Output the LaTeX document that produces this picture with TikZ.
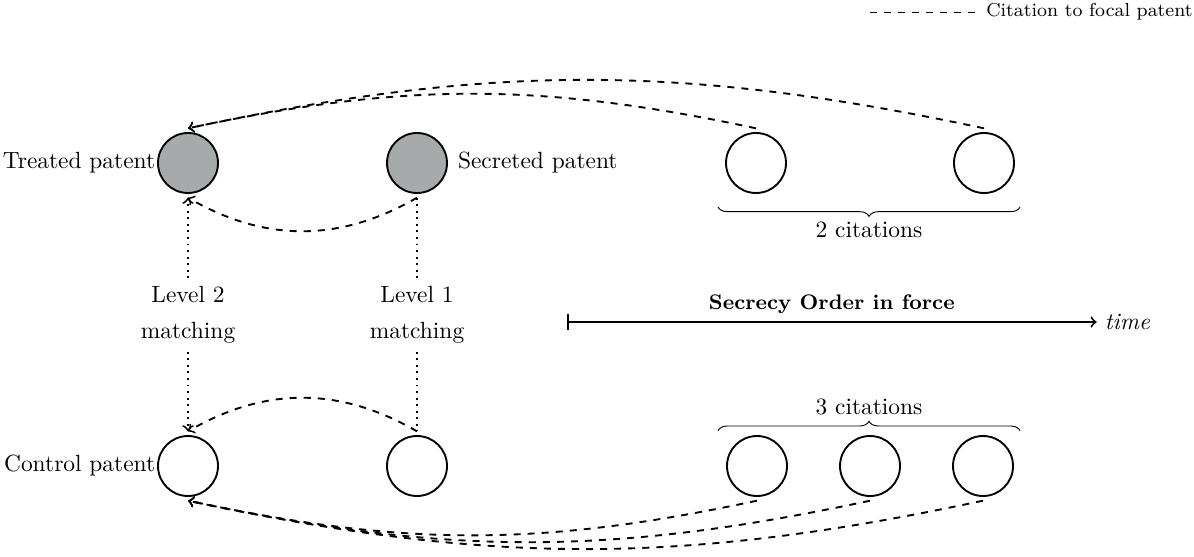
\documentclass[tikz,border=0pt]{standalone}
\usepackage{tikz}
\usetikzlibrary{calc, positioning, decorations.pathreplacing}
\definecolor{secretgray}{RGB}{166,170,170}

\begin{document}
\begin{tikzpicture}

    \useasboundingbox (0,0) rectangle (17.91,8.34); % keep the page at the reference size

    % circles for the patents, dashed for citations, dotted for the matching
    \begin{scope}[patent/.style={circle, draw, thick, minimum size=9mm, inner sep=0pt, outer sep=2pt},
                  secret/.style={patent, fill=secretgray},
                  cite/.style={->, thick, dashed},
                  match/.style={thick, dotted},
                  every label/.style={inner sep=1pt}]

    \node [secret, label={[label distance=-2pt]left:Treated patent}]   (treated)  at (2.82, 5.895)  {};
    \node [secret, label={[label distance=1.5pt]right:Secreted patent}] (secreted) at (6.255, 5.895) {};
    \node [patent] (c1) at (11.34, 5.895) {};
    \node [patent] (c2) at (14.76, 5.895) {};

    \node [patent, label={[label distance=-2pt]left:Control patent}] (control) at (2.82, 1.35)  {};
    \node [patent] (control2) at (6.255, 1.35) {};
    \node [patent] (d1) at (11.355, 1.35) {};
    \node [patent] (d2) at (13.05, 1.35)  {};
    \node [patent] (d3) at (14.745, 1.35) {};

    \node [align=center] (lev2) at (2.82, 3.615)  {Level 2\\[3.3pt]matching};
    \node [align=center] (lev1) at (6.255, 3.615) {Level 1\\[3.3pt]matching};

    % matching
    \draw [match, ->] (lev2.north) -- (treated.south);
    \draw [match, ->] (lev2.south) -- (control.north);
    \draw [match] (secreted.south) -- (lev1.north);
    \draw [match] (lev1.south) -- (control2.north);

    % citations
    \draw [cite] (c1.north) to[bend right=12] (treated.north);
    \draw [cite] (c2.north) to[bend right=12] (treated.north);
    \draw [cite] (secreted.south) to[bend left=30] (treated.south);
    \draw [cite] (control2.north) to[bend right=30] (control.north);
    \foreach \i in {d1, d2, d3} \draw [cite] (\i.south) to[bend left=12] (control.south);

    \end{scope}

    % braces counting the citations
    \draw [decorate, decoration={brace, mirror, amplitude=4pt}]
        (10.77, 5.235) -- (15.3, 5.235) node (two) [midway, below=3pt] {2 citations};
    \draw [decorate, decoration={brace, amplitude=4pt}]
        (10.77, 1.88) -- (15.3, 1.88) node (three) [midway, above=3pt] {3 citations};

    % time line
    \coordinate (start) at (8.505, 3.51);
    \node [anchor=west] (time) at (16.45, 3.51) {\textit{time}};
    \draw [thick, |->] (start) -- (time.west) node (order) [midway, above] {\small\textbf{Secrecy Order in force}};

    % legend
    \node [anchor=west, font=\footnotesize] (legend) at (14.67, 8.16) {Citation to focal patent};
    \coordinate (legstart) at (13.05, 8.16);
    \draw [dashed] (legstart) -- (legend.west);

\end{tikzpicture}
\end{document}
